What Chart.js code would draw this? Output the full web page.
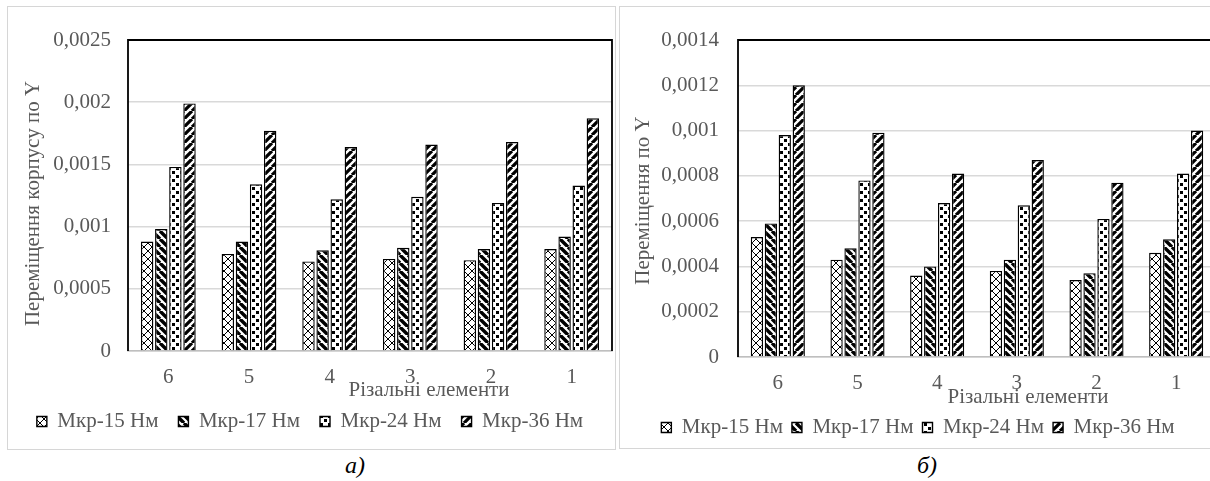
<!DOCTYPE html>
<html>
<head>
<meta charset="UTF-8">
<title>Переміщення</title>
<style>
  html, body { margin: 0; padding: 0; background: #fff; overflow: hidden; }
  body { width: 1210px; height: 481px; position: relative; font-family: "Liberation Serif", serif; }
  .box { position: absolute; border: 1.5px solid #d6d6d6; box-sizing: border-box; }
  canvas { position: absolute; }
  .cap { position: absolute; font: italic 24px "Liberation Serif", serif; color: #000; transform: translate(-50%, -50%); }
  .warm { position: absolute; left: -999px; top: 0; font: 21px "Liberation Serif"; }
</style>
</head>
<body>
<div class="box" style="left:7px;top:6px;width:609px;height:444px"></div>
<div class="box" style="left:619px;top:6px;width:604px;height:443px"></div>
<canvas id="chartA" width="607" height="442" style="left:8px;top:7px"></canvas>
<canvas id="chartB" width="602" height="441" style="left:620px;top:7px"></canvas>
<div class="cap" style="left:355px;top:465px">а)</div>
<div class="cap" style="left:927px;top:465px">б)</div>
<span class="warm">Мкр 0,0025</span>
<script src="https://cdn.jsdelivr.net/npm/chart.js@4"></script>
<script>
// різальні елементи
const categories = ['6', '5', '4', '3', '2', '1'];
const seriesNames = ['Мкр-15 Нм', 'Мкр-17 Нм', 'Мкр-24 Нм', 'Мкр-36 Нм'];

// а) переміщення корпусу по Y
const m15A = [0.00088, 0.00078, 0.00072, 0.00074, 0.00073, 0.00082];
const m17A = [0.00098, 0.00088, 0.00081, 0.00083, 0.00082, 0.00092];
const m24A = [0.00148, 0.00134, 0.00122, 0.00124, 0.00119, 0.00133];
const m36A = [0.00199, 0.00177, 0.00164, 0.00166, 0.00168, 0.00187];
const yValsA = [0, 0.0005, 0.001, 0.0015, 0.002, 0.0025];
const yTicksA = ['0', '0,0005', '0,001', '0,0015', '0,002', '0,0025'];

// б) переміщення по Y
const m15B = [0.00053, 0.00043, 0.00036, 0.00038, 0.00034, 0.00046];
const m17B = [0.00059, 0.00048, 0.00040, 0.00043, 0.00037, 0.00052];
const m24B = [0.00098, 0.00078, 0.00068, 0.00067, 0.00061, 0.00081];
const m36B = [0.00120, 0.00099, 0.00081, 0.00087, 0.00077, 0.00100];
const yValsB = [0, 0.0002, 0.0004, 0.0006, 0.0008, 0.001, 0.0012, 0.0014];
const yTicksB = ['0', '0,0002', '0,0004', '0,0006', '0,0008', '0,001', '0,0012', '0,0014'];

const FONT = '"Liberation Serif", "Times New Roman", serif';
const GREY = '#595959';

// black & white hatch fills like the Excel patterns
function makePattern(kind) {
    const s = 8;
    const c = document.createElement('canvas');
    c.width = s; c.height = s;
    const g = c.getContext('2d');
    g.fillStyle = '#fff';
    g.fillRect(0, 0, s, s);
    g.strokeStyle = '#000';
    g.fillStyle = '#000';
    if (kind === 'cross') {
        g.lineWidth = 1;
        g.beginPath();
        g.moveTo(0, 0); g.lineTo(s, s);
        g.moveTo(s, 0); g.lineTo(0, s);
        g.stroke();
    } else if (kind === 'back') {
        g.lineWidth = 3.4;
        g.beginPath();
        for (let k = -1; k <= 1; k++) {
            g.moveTo(k * s, 0); g.lineTo(k * s + s, s);
        }
        g.stroke();
    } else if (kind === 'dots') {
        g.fillRect(0, 0, 3, 3);
        g.fillRect(4, 4, 3, 3);
    } else {
        g.lineWidth = 3.2;
        g.beginPath();
        for (let k = -1; k <= 1; k++) {
            g.moveTo(k * s + s, 0); g.lineTo(k * s, s);
        }
        g.stroke();
    }
    return g.createPattern(c, 'repeat');
}

// plot frame + axis titles (x title sits over the tick labels, as in the original)
const frame = {
    id: 'frame',
    afterDraw(chart, args, o) {
        const {ctx, chartArea: a} = chart;
        ctx.save();
        ctx.strokeStyle = '#000';
        ctx.lineWidth = 1.8;
        ctx.beginPath();
        ctx.moveTo(a.left, a.bottom);
        ctx.lineTo(a.left, a.top);
        ctx.lineTo(a.right, a.top);
        ctx.lineTo(a.right, a.bottom);
        ctx.stroke();
        ctx.fillStyle = GREY;
        ctx.font = '21px ' + FONT;
        ctx.textAlign = 'center';
        ctx.textBaseline = 'middle';
        ctx.fillText(o.xTitle, (a.left + a.right) / 2 + o.xShift, a.bottom + o.xDrop);
        ctx.translate(o.yX, (a.top + a.bottom) / 2 + o.yShift);
        ctx.rotate(-Math.PI / 2);
        ctx.fillText(o.yTitle, 0, 0);
        ctx.restore();
    }
};

function buildChart(id, series, yVals, yTicks, cfg) {
    const fills = [makePattern('cross'), makePattern('back'), makePattern('dots'), makePattern('fwd')];
    const datasets = series.map(function (vals, i) {
        return {
            label: seriesNames[i],
            data: vals,
            backgroundColor: fills[i],
            borderColor: '#000',
            borderWidth: 1.4,
            categoryPercentage: 0.7,
            barPercentage: 0.88
        };
    });
    return new Chart(document.getElementById(id), {
        type: 'bar',
        data: {labels: categories, datasets: datasets},
        plugins: [frame],
        options: {
            responsive: false,
            animation: false,
            layout: {padding: {left: 0, top: 33, right: cfg.padRight, bottom: cfg.padBottom}},
            plugins: {
                tooltip: {enabled: false},
                legend: {
                    position: 'bottom',
                    labels: {
                        color: GREY,
                        font: {family: FONT, size: 21},
                        boxWidth: 10,
                        boxHeight: 10,
                        padding: cfg.legendPad
                    }
                },
                frame: {
                    xTitle: 'Різальні елементи',
                    xShift: cfg.xShift,
                    xDrop: cfg.xDrop,
                    yTitle: cfg.yTitle,
                    yX: cfg.yX,
                    yShift: cfg.yShift
                }
            },
            scales: {
                x: {
                    afterFit: function (s) { s.height = cfg.xHeight; },
                    grid: {display: false, drawTicks: false},
                    border: {display: true, color: '#bfbfbf', width: 1.5},
                    ticks: {color: GREY, font: {family: FONT, size: 21}, padding: 14}
                },
                y: {
                    min: 0,
                    max: yVals[yVals.length - 1],
                    afterFit: function (s) { s.width = cfg.yWidth; },
                    afterBuildTicks: function (s) { s.ticks = yVals.map(function (v) { return {value: v}; }); },
                    grid: {color: '#d9d9d9', lineWidth: 1.5, drawTicks: false},
                    border: {display: false},
                    ticks: {
                        color: GREY,
                        font: {family: FONT, size: 21},
                        padding: cfg.yPad,
                        callback: function (v, i) { return yTicks[i]; }
                    }
                }
            }
        }
    });
}

function start() {
    buildChart('chartA', [m15A, m17A, m24A, m36A], yValsA, yTicksA, {
        padRight: 3, padBottom: 7, legendPad: 20, xHeight: 40, yWidth: 120, yPad: 17,
        xShift: 59, xDrop: 39, yTitle: 'Переміщення корпусу по Y', yX: 25, yShift: 8
    });
    buildChart('chartB', [m15B, m17B, m24B, m36B], yValsB, yTicksB, {
        padRight: 6, padBottom: 0, legendPad: 9, xHeight: 51, yWidth: 118, yPad: 19,
        xShift: 51, xDrop: 40, yTitle: 'Переміщення по Y', yX: 23, yShift: 2
    });
}

if (document.fonts && document.fonts.load) {
    Promise.all([
        document.fonts.load('21px "Liberation Serif"', 'Мкр 0,0025'),
        document.fonts.load('italic 24px "Liberation Serif"', 'аб)')
    ]).then(start, start);
} else {
    start();
}
</script>
</body>
</html>
